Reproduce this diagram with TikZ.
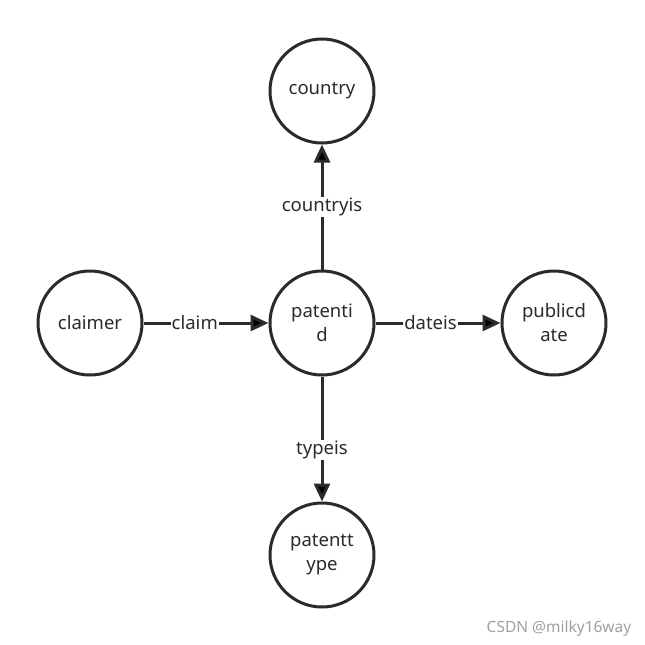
\documentclass[tikz,border=0pt]{standalone}
\usepackage{fontspec}
\setmainfont{Noto Sans}
\usetikzlibrary{arrows.meta}
\usetikzlibrary{positioning}
\definecolor{inkgray}{HTML}{2B2B2B}
\definecolor{markgray}{HTML}{A0A0A0}

\begin{document}
\begin{tikzpicture}[x=1pt,y=-1pt]
  \tikzset{entity/.style = {shape=circle,draw=inkgray,line width=3pt,minimum size=104pt,inner sep=0pt,align=center,font=\fontsize{18.5}{24}\selectfont,text=inkgray}}
  \tikzset{rel/.style = {fill=white,inner sep=1pt,font=\fontsize{18.5}{22}\selectfont,text=inkgray}}
  \tikzset{%
  tipA/.tip={Triangle[length=18pt,width=16pt]},
}
  \useasboundingbox[fill=white] (0,0) rectangle (645,645);

	\node[entity] (country) at (322,91) {country};
	\node[entity] (patentid) at (322,323) {patenti\\d};
	\node[entity] (claimer) at (90,323) {claimer};
	\node[entity] (publicdate) at (554,323) {publicd\\ate};
	\node[entity] (patenttype) at (322,555) {patentt\\ype};

    \foreach \from/\to/\lbl/\where in {patentid/country/countryis/0.5, claimer/patentid/claim/0.41, patentid/publicdate/dateis/0.44, patentid/patenttype/typeis/0.59}
    \path[-tipA,draw=inkgray,line width=3pt](\from) edge node [rel,pos=\where]{\lbl} (\to);

	\node[text=markgray,font=\fontsize{15.5}{18}\selectfont] (mark) at (559,628) {CSDN @milky16way};

\end{tikzpicture}
\end{document}
